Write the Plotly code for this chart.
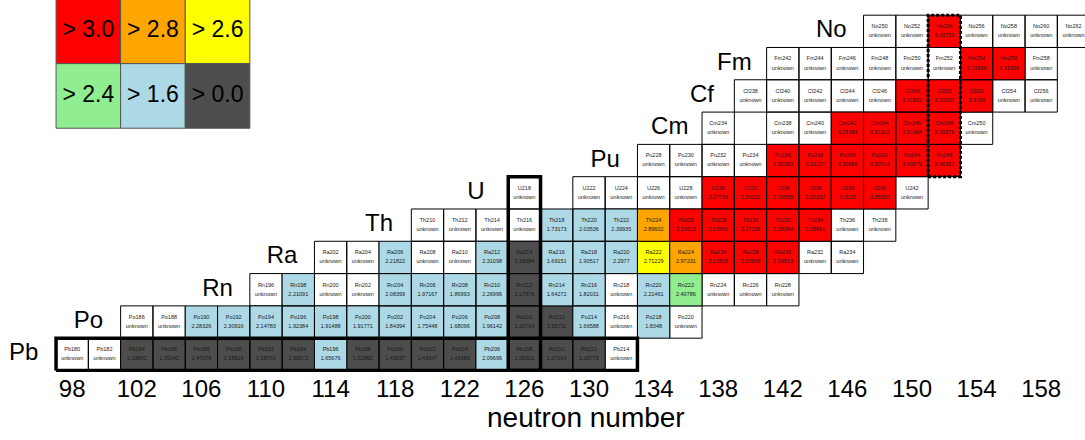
import plotly.graph_objects as go

# ---------------- data ----------------
symbols = ["Pb", "Po", "Rn", "Ra", "Th", "U", "Pu", "Cm", "Cf", "Fm", "No"]
protons = [82, 84, 86, 88, 90, 92, 94, 96, 98, 100, 102]

pb_N = [98, 100, 102, 104, 106, 108, 110, 112, 114, 116, 118, 120, 122, 124, 126, 128, 130, 132]
pb_vals = [None, None, 1.33842, 1.39342, 1.47076, 1.58819, 1.58791, 1.59572, 1.65676, 1.52882,
           1.45037, 1.43947, 1.41686, 2.09696, 1.05821, 1.37264, 1.38775, None]

po_N = [102, 104, 106, 108, 110, 112, 114, 116, 118, 120, 122, 124, 126, 128, 130, 132, 134, 136]
po_vals = [None, None, 2.28326, 2.30916, 2.14783, 1.92384, 1.91488, 1.91771, 1.84394, 1.75448,
           1.68096, 1.96142, 1.20764, 1.55711, 1.66588, None, 1.8348, None]

rn_N = [110, 112, 114, 116, 118, 120, 122, 124, 126, 128, 130, 132, 134, 136, 138, 140, 142]
rn_vals = [None, 2.21091, None, None, 2.08399, 1.97167, 1.86993, 2.26996, 1.17876, 1.64272,
           1.82031, None, 2.21461, 2.40786, None, None, None]

ra_N = [114, 116, 118, 120, 122, 124, 126, 128, 130, 132, 134, 136, 138, 140, 142, 144, 146]
ra_vals = [None, None, 2.21822, None, None, 2.31098, 1.18584, 1.69151, 1.90517, 2.2977,
           2.71229, 2.97231, 3.12605, 3.20699, 3.24913, None, None]

th_N = [120, 122, 124, 126, 128, 130, 132, 134, 136, 138, 140, 142, 144, 146, 148]
th_vals = [None, None, None, None, 1.73173, 2.03536, 2.39935, 2.89602, 3.13615, 3.23453,
           3.27256, 3.28384, 3.28961, None, None]

u_N = [126, 130, 132, 134, 136, 138, 140, 142, 144, 146, 148, 150]
u_vals = [None, None, None, None, None, 3.27726, 3.29122, 3.29558, 3.30392, 3.3035, 3.35556, None]

pu_N = [134, 136, 138, 140, 142, 144, 146, 148, 150, 152]
pu_vals = [None, None, None, None, 3.30383, 3.31137, 3.30866, 3.30714, 3.50679, 3.36957]

cm_N = [138, 142, 144, 146, 148, 150, 152, 154]
cm_vals = [None, None, None, 3.25184, 3.31312, 3.31404, 3.30878, None]

cf_N = [140, 142, 144, 146, 148, 150, 152, 154, 156, 158]
cf_vals = [None, None, None, None, None, 3.31832, 3.32097, 3.3189, None, None]

fm_N = [142, 144, 146, 148, 150, 152, 154, 156, 158]
fm_vals = [None, None, None, None, None, None, 3.31889, 3.31056, None]

no_N = [148, 150, 152, 154, 156, 158, 160]
no_vals = [None, None, 3.30759, None, None, None, None]

row_N = [pb_N, po_N, rn_N, ra_N, th_N, u_N, pu_N, cm_N, cf_N, fm_N, no_N]
row_vals = [pb_vals, po_vals, rn_vals, ra_vals, th_vals, u_vals, pu_vals, cm_vals, cf_vals, fm_vals, no_vals]

thresholds = [3.0, 2.8, 2.6, 2.4, 1.6, 0.0]
threshold_colors = ["#ff0000", "#ffa500", "#ffff00", "#90ee90", "#add8e6", "#4d4d4d"]
legend_labels = ["> 3.0", "> 2.8", "> 2.6", "> 2.4", "> 1.6", "> 0.0"]
unknown_color = "#ffffff"

tick_vals = [98, 102, 106, 110, 114, 118, 122, 126, 130, 134, 138, 142, 146, 150, 154, 158]
magic_N = 126
marked_N = 152

FONT = "Liberation Sans, Arial, Helvetica, sans-serif"


def colour_of(v):
    if v is None:
        return unknown_color
    for t, c in zip(thresholds, threshold_colors):
        if v > t:
            return c
    return threshold_colors[-1]


# ---------------- build cells ----------------
polys = {}
cx, cy, names, vtexts = [], [], [], []
for sym, z, ns, vals in zip(symbols, protons, row_N, row_vals):
    for n, v in zip(ns, vals):
        c = colour_of(v)
        px, py = polys.setdefault(c, ([], []))
        px += [n - 1, n + 1, n + 1, n - 1, n - 1, None]
        py += [z - 1, z - 1, z + 1, z + 1, z - 1, None]
        cx.append(n)
        cy.append(z)
        names.append(f"{sym}{z + n}")
        vtexts.append("unknown" if v is None else str(v))

fig = go.Figure()

for c, (px, py) in polys.items():
    fig.add_trace(go.Scatter(x=px, y=py, mode="lines", fill="toself", fillcolor=c,
                             line=dict(color="black", width=1), hoverinfo="skip"))

# legend boxes (top-left), drawn in data units
lx0, lz0 = 97, 104
for i, (c, lab) in enumerate(zip(threshold_colors, legend_labels)):
    col, row = i % 3, i // 3
    x0 = lx0 + 4 * col
    z1 = lz0 - 4 * row
    fig.add_trace(go.Scatter(x=[x0, x0 + 4, x0 + 4, x0, x0], y=[z1 - 4, z1 - 4, z1, z1, z1 - 4],
                             mode="lines", fill="toself", fillcolor=c,
                             line=dict(color="#555555", width=1), hoverinfo="skip"))
    fig.add_trace(go.Scatter(x=[x0 + 2], y=[z1 - 2], mode="text", text=[lab],
                             textfont=dict(family=FONT, size=23, color="black"), hoverinfo="skip"))

# thick frames
pb_lo, pb_hi = min(pb_N) - 1, max(pb_N) + 1
fig.add_trace(go.Scatter(x=[pb_lo, pb_hi, pb_hi, pb_lo, pb_lo],
                         y=[protons[0] - 1, protons[0] - 1, protons[0] + 1, protons[0] + 1, protons[0] - 1],
                         mode="lines", line=dict(color="black", width=3.5), hoverinfo="skip"))
z_magic = [z for z, ns in zip(protons, row_N) if magic_N in ns]
fig.add_trace(go.Scatter(x=[magic_N - 1, magic_N + 1, magic_N + 1, magic_N - 1, magic_N - 1],
                         y=[min(z_magic) - 1, min(z_magic) - 1, max(z_magic) + 1, max(z_magic) + 1, min(z_magic) - 1],
                         mode="lines", line=dict(color="black", width=3.5), hoverinfo="skip"))
z_marked = [z for z, ns in zip(protons, row_N) if marked_N in ns]
fig.add_trace(go.Scatter(x=[marked_N - 1, marked_N + 1, marked_N + 1, marked_N - 1, marked_N - 1],
                         y=[min(z_marked) - 1, min(z_marked) - 1, max(z_marked) + 1, max(z_marked) + 1, min(z_marked) - 1],
                         mode="lines", line=dict(color="black", width=3, dash="3px,2px"), hoverinfo="skip"))

# cell texts
fig.add_trace(go.Scatter(x=cx, y=[z + 0.28 for z in cy], mode="text", text=names,
                         textfont=dict(family=FONT, size=5.5, color="#1a1a1a"), hoverinfo="skip"))
fig.add_trace(go.Scatter(x=cx, y=[z - 0.28 for z in cy], mode="text", text=vtexts,
                         textfont=dict(family=FONT, size=5.5, color="#1a1a1a"), hoverinfo="skip"))

# element labels
fig.add_trace(go.Scatter(x=[ns[0] - 3 for ns in row_N], y=protons, mode="text", text=symbols,
                         textfont=dict(family=FONT, size=24, color="black"), hoverinfo="skip"))

fig.add_annotation(text="neutron number", xref="paper", yref="paper", x=586 / 1085, y=-46 / 372,
                   xanchor="center", yanchor="middle", showarrow=False,
                   font=dict(family=FONT, size=28, color="black"))

fig.update_layout(
    width=1085, height=440,
    margin=dict(l=0, r=0, t=0, b=68),
    paper_bgcolor="white", plot_bgcolor="white",
    showlegend=False,
    xaxis=dict(range=[93.53, 93.53 + 1085 / 16.15], tickvals=tick_vals, ticks="",
               showgrid=False, zeroline=False, showline=False,
               tickfont=dict(family=FONT, size=24, color="black")),
    yaxis=dict(range=[103.94 - 372 / 16.15, 103.94], visible=False),
)

fig.write_html("out.html")
